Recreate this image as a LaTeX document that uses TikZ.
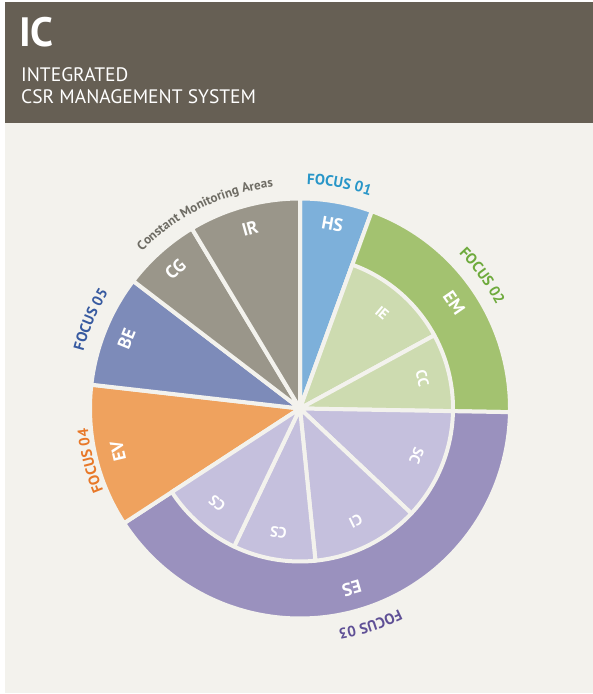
\documentclass[tikz,border=0pt]{standalone}
\usepackage{fontspec}
\setmainfont{PT Sans}
\usepackage{xcolor}
\usepackage{tikz}
\usetikzlibrary{calc,decorations.text}

\definecolor{headbg}{HTML}{665F54}
\definecolor{pagebg}{HTML}{F3F2ED}
\definecolor{hs}{HTML}{7DB0DA}
\definecolor{em}{HTML}{A3C270}
\definecolor{emlight}{HTML}{CDDBB0}
\definecolor{es}{HTML}{9A91BE}
\definecolor{eslight}{HTML}{C5C0DD}
\definecolor{ev}{HTML}{EFA25E}
\definecolor{be}{HTML}{7D8BB9}
\definecolor{cma}{HTML}{9A968A}
\definecolor{focusone}{HTML}{2896C8}
\definecolor{focustwo}{HTML}{6EAA3C}
\definecolor{focusthree}{HTML}{5F5096}
\definecolor{focusfour}{HTML}{E87828}
\definecolor{focusfive}{HTML}{375AA0}
\definecolor{cmatext}{HTML}{6E6C64}

\tikzset{
  gap/.style={draw=pagebg, line width=4pt, line join=round},
  outlab/.style={text=white, inner sep=0pt, font=\fontsize{18}{18}\selectfont\bfseries},
  inlab/.style={text=white, inner sep=0pt, font=\fontsize{15}{15}\selectfont\bfseries},
  curved/.style={decorate, decoration={text along path, text align=center, text color=#1}}
}

\begin{document}
\begin{tikzpicture}[x=1pt,y=1pt]
		\useasboundingbox (0,0) rectangle (593,694);
		\fill[pagebg] (5,1) rectangle (593,571);
		\fill[headbg] (5,571) rectangle (593,692);

		% header
		\node[anchor=base west, inner sep=0pt, text=white, font=\fontsize{41}{41}\selectfont\bfseries] (title) at (19,647) {IC};
		\node[anchor=base west, inner sep=0pt, text=white, font=\fontsize{19.5}{19.5}\selectfont] (sub1) at (21,612) {INTEGRATED};
		\node[anchor=base west, inner sep=0pt, text=white, font=\fontsize{19.5}{19.5}\selectfont] (sub2) at (21,590) {CSR MANAGEMENT SYSTEM};

		\coordinate (o) at (300,285.5);

		% outer sectors
		\foreach \a/\b/\col/\lab [count=\i] in {90/70/hs/HS, 70/-1/em/EM, -1/-146.9/es/ES, 213.1/173.5/ev/EV, 173.5/142.6/be/BE, 142.6/121/cma/CG, 121/90/cma/IR}
		{
			\pgfmathsetmacro\m{(\a+\b)/2}
			\filldraw[gap, fill=\col] (o) -- ($(o)+(\a:210)$) arc[start angle=\a, end angle=\b, radius=210] -- cycle;
			\node[outlab, rotate=\m-90] (out\i) at ($(o)+(\m:187)$) {\lab};
		}

		% inner sectors
		\foreach \a/\b/\col/\lab [count=\i] in {70/28.6/emlight/IE, 28.6/-1/emlight/CC, -1/-43.3/eslight/SC, -43.3/-84.2/eslight/CI, -84.2/-115.5/eslight/CS, -115.5/-146.9/eslight/CS}
		{
			\pgfmathsetmacro\m{(\a+\b)/2}
			\filldraw[gap, fill=\col] (o) -- ($(o)+(\a:153)$) arc[start angle=\a, end angle=\b, radius=153] -- cycle;
			\node[inlab, rotate=\m-90] (in\i) at ($(o)+(\m:126)$) {\lab};
		}

		% curved labels
		\path[curved=focusone, decoration={text={|\fontsize{15}{15}\selectfont\bfseries|FOCUS 01}}] ($(o)+(110:224)$) arc[start angle=110, end angle=50, radius=224];
		\path[curved=focustwo, decoration={text={|\fontsize{15}{15}\selectfont\bfseries|FOCUS 02}}] ($(o)+(66:222)$) arc[start angle=66, end angle=6, radius=222];
		\path[curved=focusthree, decoration={text={|\fontsize{15}{15}\selectfont\bfseries|FOCUS 03}}] ($(o)+(-42:224)$) arc[start angle=-42, end angle=-102, radius=224];
		\path[curved=focusfour, decoration={text={|\fontsize{15}{15}\selectfont\bfseries|FOCUS 04}}] ($(o)+(224:213)$) arc[start angle=224, end angle=164, radius=213];
		\path[curved=focusfive, decoration={text={|\fontsize{15}{15}\selectfont\bfseries|FOCUS 05}}] ($(o)+(187:224)$) arc[start angle=187, end angle=127, radius=224];
		\path[curved=cmatext, decoration={text={|\fontsize{13}{13}\selectfont\bfseries|Constant Monitoring Areas}}] ($(o)+(150:223)$) arc[start angle=150, end angle=82, radius=223];
	\end{tikzpicture}
\end{document}
